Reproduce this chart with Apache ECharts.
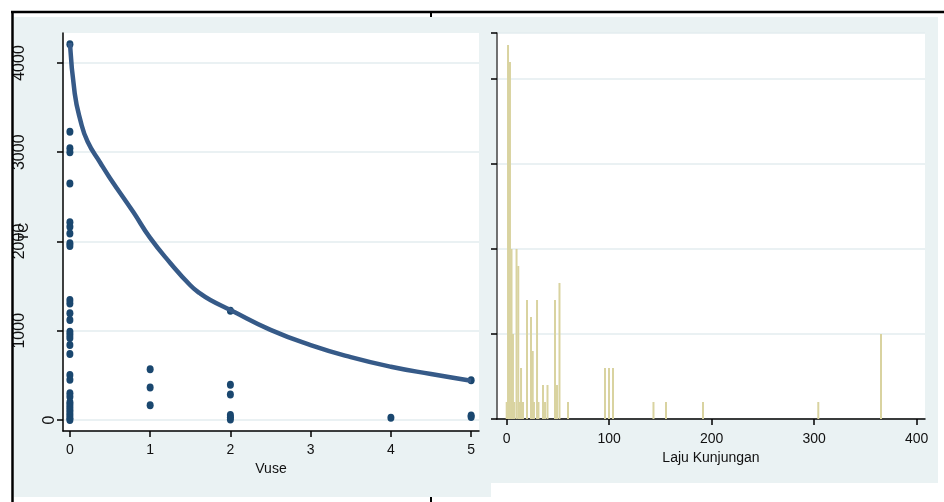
<!DOCTYPE html>
<html>
<head>
<meta charset="utf-8">
<script src="https://cdn.jsdelivr.net/npm/echarts@6/dist/echarts.min.js"></script>
<style>
    html, body { margin: 0; padding: 0; background: #fff; }
    #main { width: 944px; height: 502px; }
</style>
</head>
<body>
<div id="main"></div>
<script>
// kiri: TC terhadap Vuse (titik + kurva fit)
const vuseX = [0, 0, 0, 0, 0, 0, 0, 0, 0, 0, 0, 0, 0, 0, 0, 0, 0, 0, 0, 0, 0, 0, 0, 0, 0, 0, 0, 0, 0, 0, 0,
    1, 1, 1,
    2, 2, 2, 2, 2, 2,
    4,
    5, 5, 5]
const tcY = [4210, 3230, 3045, 3000, 2650, 2215, 2165, 2090, 1980, 1950, 1345, 1305, 1195, 1120, 990, 955, 920, 840, 740, 505, 450, 300, 260, 200, 170, 140, 110, 80, 50, 20, 0,
    570, 365, 165,
    1225, 395, 285, 55, 30, 5,
    25,
    445, 50, 35]
const fitX = [0, 0.06, 0.13, 0.22, 0.38, 0.5, 0.79, 1.0, 1.25, 1.5, 1.62, 1.75, 2, 2.5, 3, 3.5, 4, 4.5, 5]
const fitY = [4225, 3660, 3360, 3120, 2880, 2710, 2330, 2040, 1760, 1510, 1420, 1345, 1232, 1010, 840, 705, 597, 515, 440]
const vuseTicks = [0, 1, 2, 3, 4, 5]
const tcTicks = [0, 1000, 2000, 3000, 4000]

// kanan: histogram Laju Kunjungan
const lajuX = [0, 1.3, 3.2, 4.7, 6.1, 7.4, 9.6, 11.3, 13, 14, 15.9, 19.8, 23.7, 25.4, 26.6, 29.6, 31, 35.4, 37.4, 39.8,
    47.1, 49.1, 51.5, 59.8, 95.9, 99.8, 103.7, 143.2, 155.4, 191.5, 304, 365.2]
const lajuCount = [1, 22, 21, 10, 5, 1, 10, 9, 1, 3, 1, 7, 6, 4, 1, 7, 1, 2, 1, 2,
    7, 2, 8, 1, 3, 3, 3, 1, 1, 1, 1, 5]
const lajuTicks = [0, 100, 200, 300, 400]

const PANEL = '#eaf2f3'
const GRIDLINE = '#e3ecef'
const NAVY = '#1a476f'
const FONT = '"Liberation Sans", Arial, sans-serif'

let chart = echarts.init(document.getElementById('main'), null, {renderer: 'canvas'})

let options = {
    backgroundColor: '#fff',
    animation: false,
    graphic: [
        // latar panel
        {type: 'rect', z: -10, shape: {x: 14, y: 17, width: 477, height: 480}, style: {fill: PANEL}},
        {type: 'rect', z: -10, shape: {x: 491, y: 17, width: 447, height: 466}, style: {fill: PANEL}},
        // bingkai hitam
        {type: 'line', z: 10, shape: {x1: 11, y1: 12, x2: 944, y2: 12}, style: {stroke: '#000', lineWidth: 2.5}},
        {type: 'line', z: 10, shape: {x1: 12.5, y1: 11, x2: 12.5, y2: 502}, style: {stroke: '#000', lineWidth: 2.5}},
        {type: 'line', z: 10, shape: {x1: 431, y1: 12, x2: 431, y2: 17}, style: {stroke: '#000', lineWidth: 2}},
        {type: 'line', z: 10, shape: {x1: 431, y1: 497, x2: 431, y2: 502}, style: {stroke: '#000', lineWidth: 2}}
    ],
    grid: [
        {left: 63, right: 465, top: 33, bottom: 71, show: true, backgroundColor: '#fff', borderWidth: 0, outerBoundsMode: 'none'},
        {left: 497, right: 19, top: 33, bottom: 83, show: true, backgroundColor: '#fff', borderWidth: 0, outerBoundsMode: 'none'}
    ],
    xAxis: [
        {
            gridIndex: 0, type: 'value', min: -0.086, max: 5.098,
            name: 'Vuse', nameLocation: 'middle', nameGap: 26,
            nameTextStyle: {fontFamily: FONT, fontSize: 14, color: '#111'},
            axisLine: {show: true, onZero: false, lineStyle: {color: '#000', width: 1.5}},
            axisTick: {show: true, length: 6, customValues: vuseTicks, lineStyle: {color: '#000', width: 1.5}},
            axisLabel: {customValues: vuseTicks, margin: 12, fontFamily: FONT, fontSize: 14, color: '#111'},
            splitLine: {show: false}
        },
        {
            gridIndex: 1, type: 'value', min: -9.46, max: 408.1,
            name: 'Laju Kunjungan', nameLocation: 'middle', nameGap: 27,
            nameTextStyle: {fontFamily: FONT, fontSize: 14, color: '#111'},
            axisLine: {show: true, onZero: false, lineStyle: {color: '#000', width: 1.5}},
            axisTick: {show: true, length: 6, customValues: lajuTicks, lineStyle: {color: '#000', width: 1.5}},
            axisLabel: {customValues: lajuTicks, margin: 13, fontFamily: FONT, fontSize: 14, color: '#111'},
            splitLine: {show: false}
        }
    ],
    yAxis: [
        {
            gridIndex: 0, type: 'value', min: -123, max: 4336,
            name: 'TC', nameLocation: 'middle', nameGap: 32, nameRotate: 90, nameMoveOverlap: false,
            nameTextStyle: {fontFamily: FONT, fontSize: 14, color: '#111'},
            axisLine: {show: true, onZero: false, lineStyle: {color: '#000', width: 1.5}},
            axisTick: {show: true, length: 6, customValues: tcTicks, lineStyle: {color: '#000', width: 1.5}},
            axisLabel: {
                customValues: tcTicks, rotate: 90, margin: 5,
                fontFamily: FONT, fontSize: 16, color: '#111',
                // label panjang tergeser ke kiri seperti di gambar asli
                formatter: v => v === 0 ? '{z|0}' : '{n|' + v + '}',
                rich: {
                    z: {fontFamily: FONT, fontSize: 16, lineHeight: 16, color: '#111'},
                    n: {fontFamily: FONT, fontSize: 16, lineHeight: 77, color: '#111'}
                }
            },
            splitLine: {show: true, lineStyle: {color: GRIDLINE, width: 1.5}}
        },
        {
            gridIndex: 1, type: 'value', min: 0, max: 22.7, interval: 5,
            axisLine: {show: true, onZero: false, lineStyle: {color: '#444', width: 1.5}},
            axisTick: {show: true, length: 6, lineStyle: {color: '#000', width: 1.5}},
            axisLabel: {show: false},
            splitLine: {show: true, lineStyle: {color: GRIDLINE, width: 1.5}}
        }
    ],
    series: [
        {
            type: 'scatter', xAxisIndex: 0, yAxisIndex: 0,
            symbol: 'circle', symbolSize: [7, 8],
            itemStyle: {color: NAVY, opacity: 1},
            data: vuseX.map((x, i) => [x, tcY[i]])
        },
        {
            type: 'line', xAxisIndex: 0, yAxisIndex: 0,
            smooth: 0.5, showSymbol: false,
            lineStyle: {color: '#365a88', width: 4.5},
            data: fitX.map((x, i) => [x, fitY[i]])
        },
        {
            type: 'bar', xAxisIndex: 1, yAxisIndex: 1,
            barWidth: 2,
            itemStyle: {color: '#d9d3a0'},
            data: lajuX.map((x, i) => [x, lajuCount[i]])
        }
    ]
}

chart.setOption(options)
</script>
</body>
</html>
